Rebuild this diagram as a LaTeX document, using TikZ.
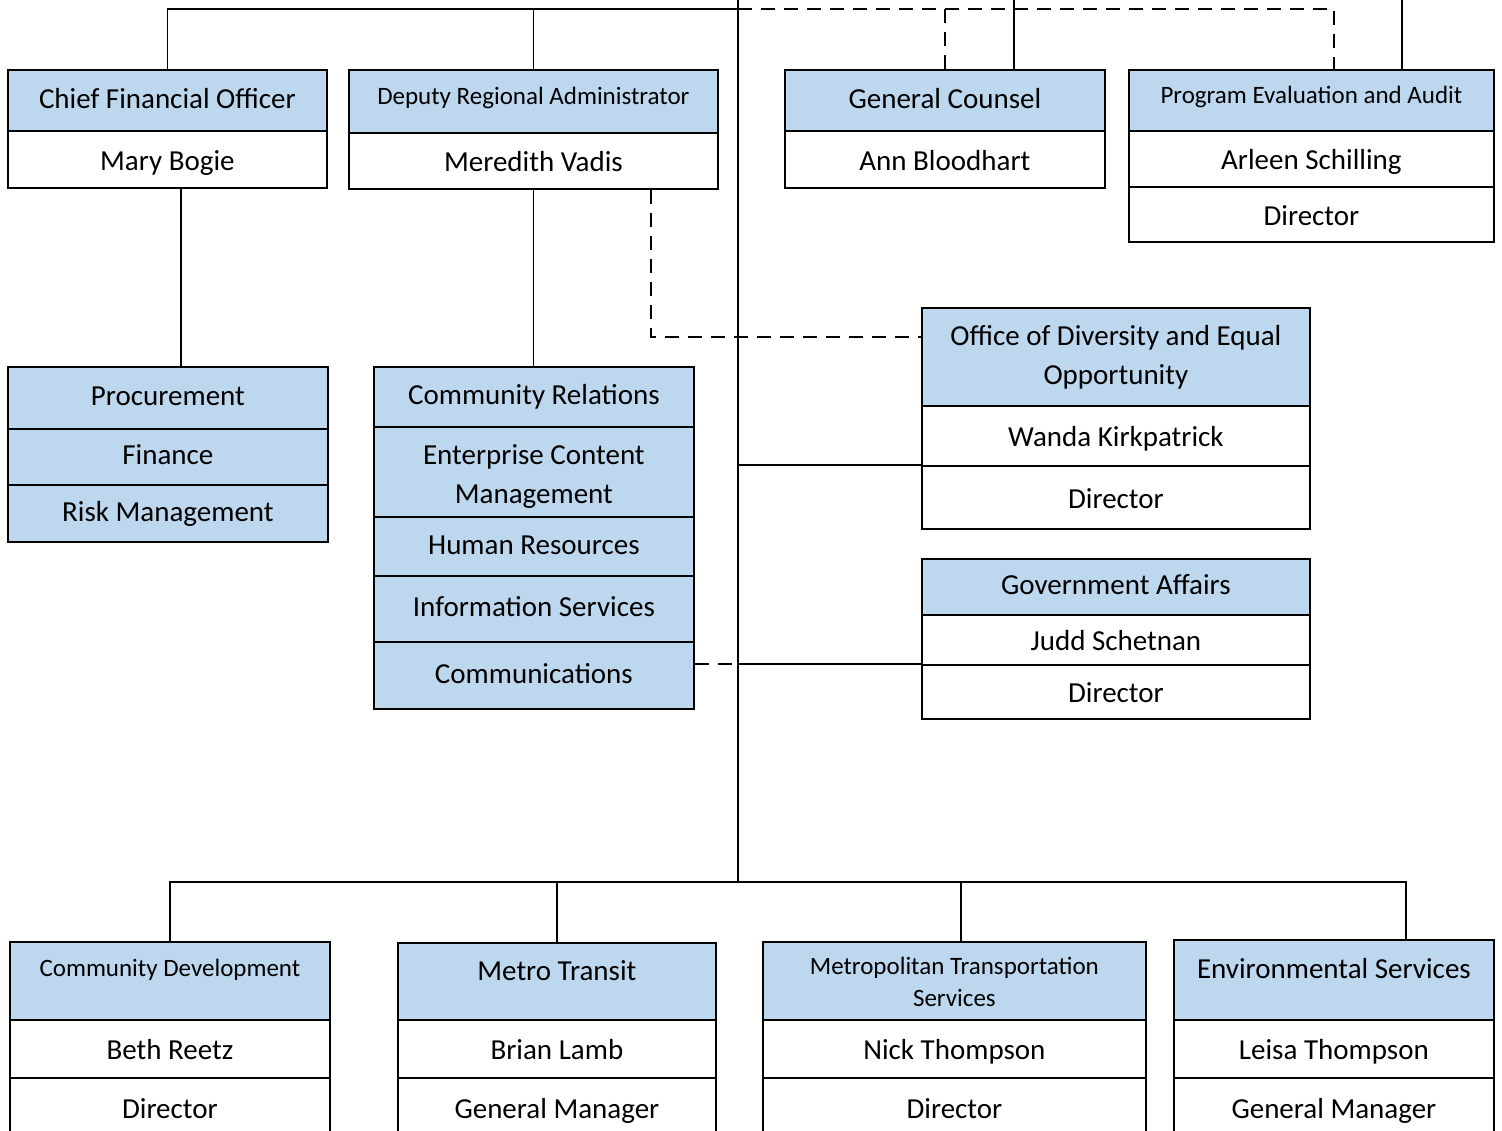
\documentclass[tikz,border=0pt]{standalone}
\usepackage{fontspec}
\setmainfont{Carlito}
\definecolor{hdblue}{RGB}{189,215,238}
\newcommand{\bigf}{\fontsize{29}{39}\selectfont}
\newcommand{\smallf}{\fontsize{25}{32}\selectfont}
\tikzset{
  box/.style={draw, line width=1.8pt, anchor=north west, inner sep=0pt, align=center, font=\bigf},
  cell/.style={box, text height=25pt, text depth=3pt},
  head/.style={box, fill=hdblue, text height=22pt, text depth=6pt},
  mhead/.style={box, fill=hdblue},
  sm/.style={font=\smallf, text height=17pt, text depth=10pt},
  wh/.style 2 args={minimum width=#1pt, minimum height=#2pt},
  link/.style={line width=1.8pt},
  dashline/.style={line width=1.8pt, dash pattern=on 14pt off 9pt},
  up/.style={text height=18pt, text depth=20pt},
  upsm/.style={font=\smallf, text height=16pt, text depth=25pt}
}

\begin{document}
\begin{tikzpicture}[x=1pt,y=-1pt]
\clip (0,0) rectangle (1502,1131);

% top row
\node[head, wh={319}{61}] (cfoT) at (7,69) {Chief Financial Officer};
\node[cell, wh={319}{57}] (cfoN) at (7,130) {Mary Bogie};
\node[head, sm, wh={369}{63}] (draT) at (348,69) {Deputy Regional Administrator};
\node[cell, wh={369}{56}] (draN) at (348,132) {Meredith Vadis};
\node[head, wh={320}{61}] (gcT) at (784,69) {General Counsel};
\node[cell, wh={320}{57}] (gcN) at (784,130) {Ann Bloodhart};
\node[head, sm, wh={365}{61}] (peaT) at (1128,69) {Program Evaluation and Audit};
\node[cell, wh={365}{56}] (peaN) at (1128,130) {Arleen Schilling};
\node[cell, wh={365}{55}] (peaD) at (1128,186) {Director};

% departments under the two left boxes
\foreach \nm/\yy/\hh/\txt in {proc/366/62/Procurement, fin/428/56/Finance, risk/484/57/Risk Management}
  \node[head, wh={320}{\hh}] (\nm) at (7,\yy) {\txt};
\node[mhead, wh={320}{90}, text height=70pt, text depth=6pt] (ecm) at (373,426) {Enterprise Content\\Management};
\foreach \nm/\yy/\hh/\txt in {cr/366/60/Community Relations, hr/516/59/Human Resources,
    is/575/66/Information Services, comm/641/67/Communications}
  \node[head, wh={320}{\hh}] (\nm) at (373,\yy) {\txt};

% offices on the right
\node[mhead, wh={388}{98}] (odeoT) at (921,307) {Office of Diversity and Equal\\Opportunity};
\node[cell, wh={388}{60}] (odeoN) at (921,405) {Wanda Kirkpatrick};
\node[cell, wh={388}{63}] (odeoD) at (921,465) {Director};
\node[head, wh={388}{56}] (gaT) at (921,558) {Government Affairs};
\node[cell, wh={388}{50}] (gaN) at (921,614) {Judd Schetnan};
\node[cell, wh={388}{54}] (gaD) at (921,664) {Director};

% divisions
\foreach \nm/\xx/\ww/\yy/\st/\title/\person/\role in {
    cd/9/320/941/upsm/Community Development/Beth Reetz/Director,
    mt/397/318/942/up/Metro Transit/Brian Lamb/General Manager,
    es/1173/320/939/up/Environmental Services/Leisa Thompson/General Manager} {
  \node[head, \st, minimum width=\ww pt, minimum height={(1019-\yy)*1pt}] (\nm T) at (\xx,\yy) {\title};
  \node[cell, wh={\ww}{58}] (\nm N) at (\xx,1019) {\person};
  \node[cell, wh={\ww}{60}] (\nm D) at (\xx,1077) {\role};
}
\node[mhead, font=\smallf, wh={383}{78}, text height=58pt, text depth=6pt] (mtsT) at (762,941) {Metropolitan Transportation\\Services};
\node[cell, wh={383}{58}] (mtsN) at (762,1019) {Nick Thompson};
\node[cell, wh={383}{60}] (mtsD) at (762,1077) {Director};

% lines
\coordinate (trunkTop) at (738,0);
\coordinate (topBus) at (738,9);
\coordinate (trunkBot) at (738,882);
\draw[link] (trunkTop) -- (trunkBot);
\draw[link] (cfoT.north) |- (topBus);
\draw[link] (draT.north) -- (draT.north |- topBus);

\coordinate (peaDash) at ([xshift=22.5pt]peaT.north);
\coordinate (gcLine) at ([xshift=69pt]gcT.north);
\coordinate (peaLine) at ([xshift=90.5pt]peaT.north);
\draw[dashline] (topBus) -| (peaDash);
\draw[dashline] (gcT.north) -- (gcT.north |- topBus);
\draw[link] (gcLine) -- (gcLine |- trunkTop);
\draw[link] (peaLine) -- (peaLine |- trunkTop);

\coordinate (cfoDrop) at ([xshift=13.5pt]cfoN.south);
\draw[link] (cfoDrop) -- (cfoDrop |- proc.north);
\draw[link] (draN.south) -- (draN.south |- cr.north);
\coordinate (draDash) at ([xshift=117.5pt]draN.south);
\coordinate (odeoDash) at ([yshift=20pt]odeoT.west);
\draw[dashline] (draDash) |- (odeoDash);
\draw[link] (odeoD.north west) -- (odeoD.north west -| trunkTop);
\draw[link] (gaD.north west) -- (gaD.north west -| trunkTop);
\draw[dashline] (comm.east |- gaD.north west) -- (gaD.north west -| trunkTop);

\coordinate (mtsDrop) at ([xshift=6.5pt]mtsT.north);
\coordinate (esDrop) at ([xshift=72pt]esT.north);
\draw[link] (cdT.north) |- (trunkBot) -| (esDrop);
\draw[link] (mtT.north) -- (mtT.north |- trunkBot);
\draw[link] (mtsDrop) -- (mtsDrop |- trunkBot);
\end{tikzpicture}
\end{document}
